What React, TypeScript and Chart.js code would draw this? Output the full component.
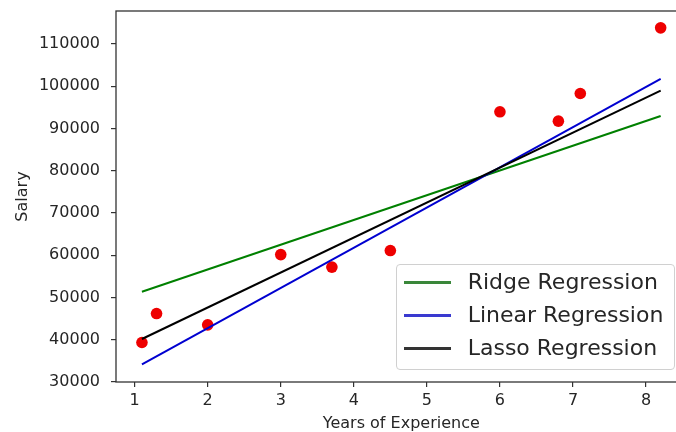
import React, { useEffect, useRef } from "react";
import { Chart, registerables } from "chart.js";

Chart.register(...registerables);

// Test-set points (Years of Experience vs Salary)
const experience = [1.1, 1.3, 2.0, 3.0, 3.7, 4.5, 6.0, 6.8, 7.1, 8.2];
const salary = [39343, 46205, 43525, 60150, 57189, 61111, 93940, 91738, 98273, 113812];

// Regression lines, evaluated at the ends of the test range
const lineX = [1.1, 8.2];
const ridgePred = [51370, 92960];
const linearPred = [34190, 101720];
const lassoPred = [40180, 98950];

const xTicks = [1, 2, 3, 4, 5, 6, 7, 8];
const yTicks = [30000, 40000, 50000, 60000, 70000, 80000, 90000, 100000, 110000];

const legendItems = [
  { label: "Ridge Regression", color: "#3a873a" },
  { label: "Linear Regression", color: "#3a3ad0" },
  { label: "Lasso Regression", color: "#333333" },
];

const FONT = "'DejaVu Sans', sans-serif";
const TEXT = "#262626";

const framePlugin = {
  id: "frame",
  afterDatasetsDraw(chart: any) {
    const { ctx, chartArea } = chart;
    ctx.save();
    ctx.strokeStyle = "#333333";
    ctx.lineWidth = 1.3;
    ctx.strokeRect(chartArea.left, chartArea.top, chartArea.right - chartArea.left, chartArea.bottom - chartArea.top);
    ctx.restore();
  },
};

export default function App() {
  const ref = useRef<HTMLCanvasElement | null>(null);

  useEffect(() => {
    if (!ref.current) return;
    const pts = experience.map((x, i) => ({ x, y: salary[i] }));
    const mk = (arr: number[]) => lineX.map((x, i) => ({ x, y: arr[i] }));
    const chart = new Chart(ref.current, {
      type: "scatter",
      data: {
        datasets: [
          {
            type: "line",
            label: "Lasso Regression",
            data: mk(lassoPred),
            borderColor: "#000000",
            borderWidth: 2,
            pointRadius: 0,
            order: 1,
          } as any,
          {
            type: "line",
            label: "Linear Regression",
            data: mk(linearPred),
            borderColor: "#0000d0",
            borderWidth: 2,
            pointRadius: 0,
            order: 2,
          } as any,
          {
            type: "line",
            label: "Ridge Regression",
            data: mk(ridgePred),
            borderColor: "#008000",
            borderWidth: 2,
            pointRadius: 0,
            order: 3,
          } as any,
          {
            label: "Test data",
            data: pts,
            backgroundColor: "#ee0000",
            borderWidth: 0,
            pointRadius: 5.8,
            order: 4,
          },
        ],
      },
      options: {
        responsive: false,
        animation: false,
        layout: { padding: { left: 0, top: 11, right: 13.4, bottom: 0 } },
        plugins: { legend: { display: false }, tooltip: { enabled: false } },
        scales: {
          x: {
            type: "linear",
            min: 0.745,
            max: 8.555,
            afterFit: (s: any) => {
              s.height = 50;
              s.paddingLeft = 0;
              s.paddingRight = 0;
            },
            afterBuildTicks: (s: any) => { s.ticks = xTicks.map((v) => ({ value: v })); },
            ticks: {
              includeBounds: false,
              padding: 4,
              color: TEXT,
              font: { family: FONT, size: 16 },
              callback: (v: any) => String(v),
            },
            grid: { drawOnChartArea: false, drawTicks: true, tickLength: 5, color: "#333333", lineWidth: 1.2 },
            border: { display: false },
            title: {
              display: true,
              text: "Years of Experience",
              color: TEXT,
              font: { family: FONT, size: 16, lineHeight: 1 },
              padding: { top: 0, bottom: 0 },
            },
          },
          y: {
            type: "linear",
            min: 30000,
            max: 117800,
            afterFit: (s: any) => {
              s.width = 116;
              s.paddingTop = 0;
              s.paddingBottom = 0;
            },
            afterBuildTicks: (s: any) => { s.ticks = yTicks.map((v) => ({ value: v })); },
            ticks: {
              includeBounds: false,
              padding: 11,
              color: TEXT,
              font: { family: FONT, size: 16 },
              callback: (v: any) => String(v),
            },
            grid: { drawOnChartArea: false, drawTicks: true, tickLength: 5, color: "#333333", lineWidth: 1.2 },
            border: { display: false },
            title: {
              display: true,
              text: "Salary",
              color: TEXT,
              font: { family: FONT, size: 16, lineHeight: 1.2 },
              padding: { top: 13, bottom: 0 },
            },
          },
        },
      },
      plugins: [framePlugin],
    });
    return () => chart.destroy();
  }, []);

  const rowTops = [1, 34, 67];

  return (
    <div style={{ position: "fixed", left: 0, top: 0, width: 676, height: 432, overflow: "hidden", background: "#fff" }}>
      <canvas ref={ref} width={700} height={432} style={{ display: "block", width: 700, height: 432 }} />
      <div
        style={{
          position: "absolute",
          left: 396,
          top: 264,
          width: 277,
          height: 104,
          border: "1px solid #d0d0d0",
          borderRadius: 4,
          background: "rgba(255,255,255,0.85)",
          fontFamily: FONT,
        }}
      >
        {legendItems.map((it, i) => (
          <div key={it.label} style={{ position: "absolute", left: 0, top: rowTops[i], height: 32, width: 277 }}>
            <div style={{ position: "absolute", left: 7, top: 15, width: 47, height: 3, background: it.color }} />
            <div
              style={{
                position: "absolute",
                left: 70.7,
                top: 0,
                height: 32,
                lineHeight: "32px",
                fontSize: 22,
                color: TEXT,
                whiteSpace: "nowrap",
              }}
            >
              {it.label}
            </div>
          </div>
        ))}
      </div>
    </div>
  );
}
